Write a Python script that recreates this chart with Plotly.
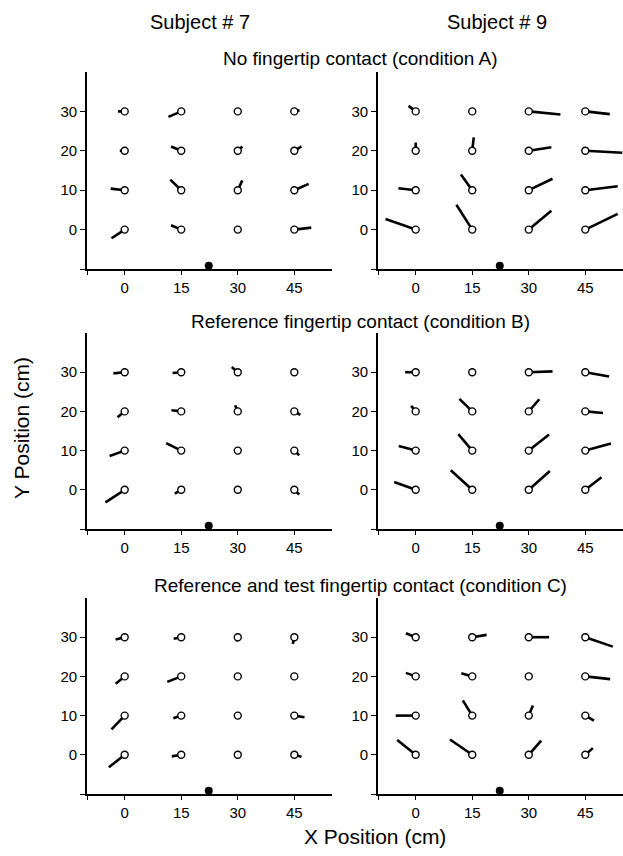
import plotly.graph_objects as go

# Grid of measurement positions (cm)
grid_x = [0, 15, 30, 45]
grid_y = [30, 20, 10, 0]

# Vector components (cm), rows ordered y=30,20,10,0; columns x=0,15,30,45
a7_dx = [[-1.8, -3.4, -1.0, 1.4], [-1.3, -2.7, 1.2, 1.9], [-3.7, -2.9, 1.2, 3.8], [-3.5, -2.7, 0.4, 4.5]]
a7_dy = [[0.0, -1.4, 0.0, 0.3], [0.0, 1.1, 1.1, 1.1], [0.4, 2.7, 2.5, 1.6], [-2.2, 1.1, -0.2, 0.5]]
a9_dx = [[-1.9, 0.2, 8.4, 6.5], [0.0, 0.4, 6.0, 9.8], [-4.6, -3.0, 6.3, 8.6], [-8.0, -4.2, 6.0, 8.6]]
a9_dy = [[1.4, 0.8, -0.8, -0.7], [2.1, 3.4, 0.9, -0.5], [0.5, 4.0, 2.9, 1.0], [2.7, 6.3, 4.8, 4.0]]
b7_dx = [[-3.0, -2.3, -1.6, 0.0], [-1.9, -2.6, -0.7, 1.6], [-4.0, -4.0, 0.0, 1.3], [-5.1, -1.7, 0.0, 1.3]]
b7_dy = [[-0.3, -0.2, 1.3, 0.0], [-1.5, 0.3, 1.6, -0.9], [-1.4, 1.9, 0.3, -1.2], [-3.2, -1.0, 0.4, -1.2]]
b9_dx = [[-2.8, 0.0, 6.3, 6.3], [-1.2, -3.4, 2.8, 4.7], [-4.5, -3.7, 5.4, 6.8], [-5.7, -5.7, 5.6, 4.3]]
b9_dy = [[0.0, 0.0, 0.2, -1.1], [1.4, 3.2, 3.1, -0.4], [1.2, 4.2, 4.1, 1.8], [2.0, 5.0, 4.8, 3.2]]
c7_dx = [[-2.4, -2.0, -0.3, -0.4], [-2.4, -3.7, 0.0, 0.0], [-3.5, -2.1, 0.0, 2.7], [-4.2, -2.5, 0.0, 1.9]]
c7_dy = [[-0.6, -0.4, -1.1, -1.7], [-1.9, -1.4, 0.0, -0.5], [-3.5, -0.7, 0.0, -0.4], [-3.2, -0.4, -0.3, -0.5]]
c9_dx = [[-2.6, 3.8, 5.4, 7.3], [-2.6, -2.9, 0.0, 6.6], [-5.3, -2.5, 1.1, 2.3], [-4.9, -5.9, 3.3, 2.0]]
c9_dy = [[1.0, 0.6, 0.0, -2.4], [0.9, 0.8, 0.4, -0.7], [0.0, 3.9, 2.6, -1.3], [3.8, 3.9, 3.6, 1.7]]

# Reference (body) position marker
body_x = 22.3
body_y = -9.2

x_ticks = [0, 15, 30, 45]
y_ticks = [0, 10, 20, 30]

col_titles = ["Subject # 7", "Subject # 9"]
row_titles = ["No fingertip contact (condition A)",
              "Reference fingertip contact (condition B)",
              "Reference and test fingertip contact (condition C)"]

panels = [(a7_dx, a7_dy), (a9_dx, a9_dy), (b7_dx, b7_dy), (b9_dx, b9_dy), (c7_dx, c7_dy), (c9_dx, c9_dy)]

W, H = 623, 856
x_dom_px = [(87, 332), (378, 623)]
y_dom_px = [(72, 269), (333, 529), (598, 794)]

fig = go.Figure()
layout = {}
for i, (dx, dy) in enumerate(panels):
    r, c = divmod(i, 2)
    n = i + 1
    xa = "x" if n == 1 else f"x{n}"
    ya = "y" if n == 1 else f"y{n}"
    lx, ly = [], []
    cx, cy = [], []
    for ri, gy in enumerate(grid_y):
        for ci, gx in enumerate(grid_x):
            lx += [gx, gx + dx[ri][ci], None]
            ly += [gy, gy + dy[ri][ci], None]
            cx.append(gx)
            cy.append(gy)
    fig.add_trace(go.Scatter(x=lx, y=ly, mode="lines", line=dict(color="black", width=2.6),
                             xaxis=xa, yaxis=ya, showlegend=False, hoverinfo="skip"))
    fig.add_trace(go.Scatter(x=cx, y=cy, mode="markers",
                             marker=dict(symbol="circle", size=7, color="white",
                                         line=dict(color="black", width=1.4)),
                             xaxis=xa, yaxis=ya, showlegend=False))
    fig.add_trace(go.Scatter(x=[body_x], y=[body_y], mode="markers",
                             marker=dict(symbol="circle", size=8, color="black"),
                             cliponaxis=False, xaxis=xa, yaxis=ya, showlegend=False))
    x0, x1 = x_dom_px[c]
    y0, y1 = y_dom_px[r]
    axkey = "xaxis" if n == 1 else f"xaxis{n}"
    aykey = "yaxis" if n == 1 else f"yaxis{n}"
    layout[axkey] = dict(domain=[x0 / W, x1 / W], range=[-10, 55], anchor=ya,
                         tickmode="array", tickvals=[-10] + x_ticks,
                         ticktext=[""] + [str(v) for v in x_ticks],
                         ticks="outside", ticklen=4, tickwidth=1.2, tickcolor="black",
                         showline=True, linecolor="black", linewidth=1.6,
                         showgrid=False, zeroline=False,
                         tickfont=dict(family="Liberation Sans, Arial", size=15, color="black"))
    layout[aykey] = dict(domain=[1 - y1 / H, 1 - y0 / H], range=[-10, 40], anchor=xa,
                         tickmode="array", tickvals=[-10] + y_ticks,
                         ticktext=[""] + [str(v) for v in y_ticks],
                         ticks="outside", ticklen=5, tickwidth=1.2, tickcolor="black",
                         showline=True, linecolor="black", linewidth=1.6,
                         showgrid=False, zeroline=False,
                         tickfont=dict(family="Liberation Sans, Arial", size=15, color="black"))

font = "Liberation Sans, Arial"
ann = []
for txt, xp in zip(col_titles, [200, 497]):
    ann.append(dict(text=txt, x=xp / W, y=1 - 22 / H, xref="paper", yref="paper",
                    showarrow=False, xanchor="center", yanchor="middle",
                    font=dict(family=font, size=20, color="black")))
for txt, yp in zip(row_titles, [59, 322, 585]):
    ann.append(dict(text=txt, x=360 / W, y=1 - yp / H, xref="paper", yref="paper",
                    showarrow=False, xanchor="center", yanchor="middle",
                    font=dict(family=font, size=19, color="black")))
ann.append(dict(text="Y Position (cm)", x=21 / W, y=1 - 428 / H, xref="paper", yref="paper",
                showarrow=False, textangle=-90, xanchor="center", yanchor="middle",
                font=dict(family=font, size=21, color="black")))
ann.append(dict(text="X Position (cm)", x=375 / W, y=1 - 836 / H, xref="paper", yref="paper",
                showarrow=False, xanchor="center", yanchor="middle",
                font=dict(family=font, size=21, color="black")))

fig.update_layout(width=W, height=H, margin=dict(l=0, r=0, t=0, b=0),
                  paper_bgcolor="white", plot_bgcolor="white",
                  annotations=ann, **layout)

fig.write_html("out.html")
